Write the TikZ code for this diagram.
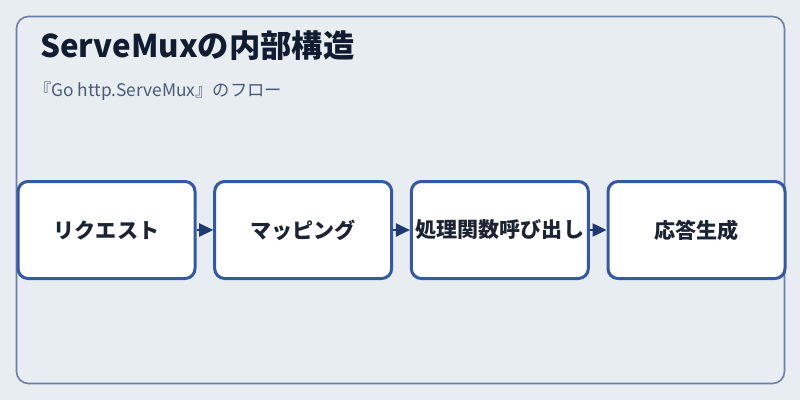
\documentclass[tikz,border=0pt]{standalone}
\usepackage{fontspec}
\setmainfont{Noto Sans CJK JP}
\usetikzlibrary{positioning}
\usetikzlibrary{arrows.meta}
\definecolor{pagebg}{HTML}{E8EDF2}
\definecolor{framecol}{HTML}{6A7FAA}
\definecolor{boxcol}{HTML}{3558A2}
\definecolor{tipcol}{HTML}{1F3A72}
\definecolor{titlecol}{HTML}{111C30}
\definecolor{subcol}{HTML}{4A5A78}
\definecolor{textcol}{HTML}{1C2333}

\begin{document}
\begin{tikzpicture}[x=0.75pt,y=-0.75pt]
	\tikzset{stepbox/.style={draw=boxcol,line width=2.25pt,fill=white,rounded corners=7.5pt,
			minimum width=132.75pt,minimum height=72.75pt,inner sep=0pt,
			font=\bfseries\fontsize{15.8pt}{18pt}\selectfont,text=textcol},
		flow/.style={draw=tipcol,line width=1pt,-{Triangle[length=10.5pt,width=10pt]}}}
	
	% Background and outer frame
	\fill[pagebg] (0,0) rectangle (800,400);
	\useasboundingbox (0,0) rectangle (800,400);
	\draw[framecol,line width=1.2pt,rounded corners=9pt] (16.5,16.5) rectangle (784.5,383.5);
	
	% Title and subtitle
	\node[anchor=base west,inner sep=0pt,text=titlecol,font=\bfseries\fontsize{23.5pt}{26pt}\selectfont] (title) at (40,57) {ServeMuxの内部構造};
	\node[anchor=base west,inner sep=0pt,text=subcol,font=\fontsize{13pt}{15pt}\selectfont] (subtitle) at (34,96) {『Go http.ServeMux』のフロー};
	
	% Steps of the flow
	\node[stepbox] (request) at (106.5,230) {リクエスト};
	\node[stepbox,right=12.5pt of request] (mapping) {マッピング};
	\node[stepbox,right=12.5pt of mapping] (handler) {処理関数呼び出し};
	\node[stepbox,right=12.5pt of handler] (response) {応答生成};
	
	% Arrows between steps
	\draw[flow] (request) -- (mapping);
	\draw[flow] (mapping) -- (handler);
	\draw[flow] (handler) -- (response);
	
\end{tikzpicture}
\end{document}
